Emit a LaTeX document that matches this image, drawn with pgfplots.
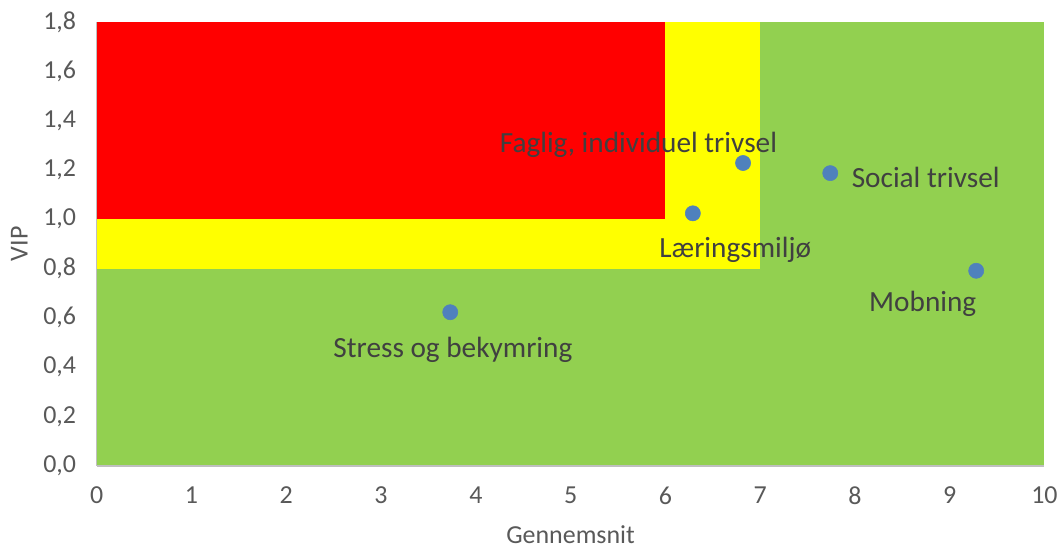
\documentclass[border=0pt]{standalone}
\usepackage{pgfplots}
\pgfplotsset{compat=1.18}
\usetikzlibrary{calc}
\usepackage{fontspec}
\setmainfont{Carlito}
\definecolor{cred}{HTML}{FF0000}
\definecolor{cyel}{HTML}{FFFF00}
\definecolor{cgrn}{HTML}{92D050}
\definecolor{cpt}{HTML}{4F81BD}
\definecolor{ctick}{HTML}{595959}
\definecolor{clab}{HTML}{404040}
\definecolor{caxis}{HTML}{BFBFBF}
\begin{document}
\begin{tikzpicture}[x=0.75pt,y=0.75pt]
\begin{axis}[
  scale only axis,
  width=712.5pt, height=333.75pt,
  xmin=0, xmax=10, ymin=0, ymax=1.8,
  xtick={0,1,...,10},
  ytick={0,0.2,...,1.8},
  axis x line=bottom, axis y line=left,
  axis line style={caxis, line width=1pt, -},
  major tick length=0pt,
  axis on top,
  tick label style={font=\fontsize{19.5}{23}\selectfont, text=ctick},
  /pgf/number format/assume math mode=true,
  yticklabel style={/pgf/number format/fixed, /pgf/number format/fixed zerofill, /pgf/number format/precision=1, /pgf/number format/use comma, xshift=-12pt},
  xticklabel style={yshift=-12pt},
  xlabel={Gennemsnit}, ylabel={VIP},
  label style={font=\fontsize{19.5}{23}\selectfont, text=ctick},
  xlabel style={yshift=-9pt},
  ylabel style={yshift=5pt},
  clip=false,
]
\addplot[draw=none, fill=cgrn] coordinates {(0,0) (10,0) (10,1.8) (0,1.8)} -- cycle;
\addplot[draw=none, fill=cyel] coordinates {(0,0.8) (7,0.8) (7,1.8) (0,1.8)} -- cycle;
\addplot[draw=none, fill=cred] coordinates {(0,1.0) (6,1.0) (6,1.8) (0,1.8)} -- cycle;
\addplot[only marks, mark=*, mark size=5.7pt, mark options={draw=cpt, fill=cpt}] coordinates {
(3.73,0.623) (6.29,1.024) (6.82,1.228) (7.74,1.187) (9.28,0.791)};
\begin{scope}[every node/.style={font=\fontsize{22}{26}\selectfont, text=clab}]
\node at (axis cs:3.758,0.470) {Stress og bekymring};
\node at (axis cs:6.737,0.875) {Læringsmiljø};
\node at (axis cs:5.716,1.300) {Faglig, individuel trivsel};
\node at (axis cs:8.747,1.170) {Social trivsel};
\node at (axis cs:8.716,0.656) {Mobning};
\end{scope}
\path[use as bounding box] ($(rel axis cs:0,0)+(-72.75pt,-60pt)$) rectangle ($(rel axis cs:1,1)+(11.25pt,16.5pt)$);
\end{axis}
\end{tikzpicture}
\end{document}
